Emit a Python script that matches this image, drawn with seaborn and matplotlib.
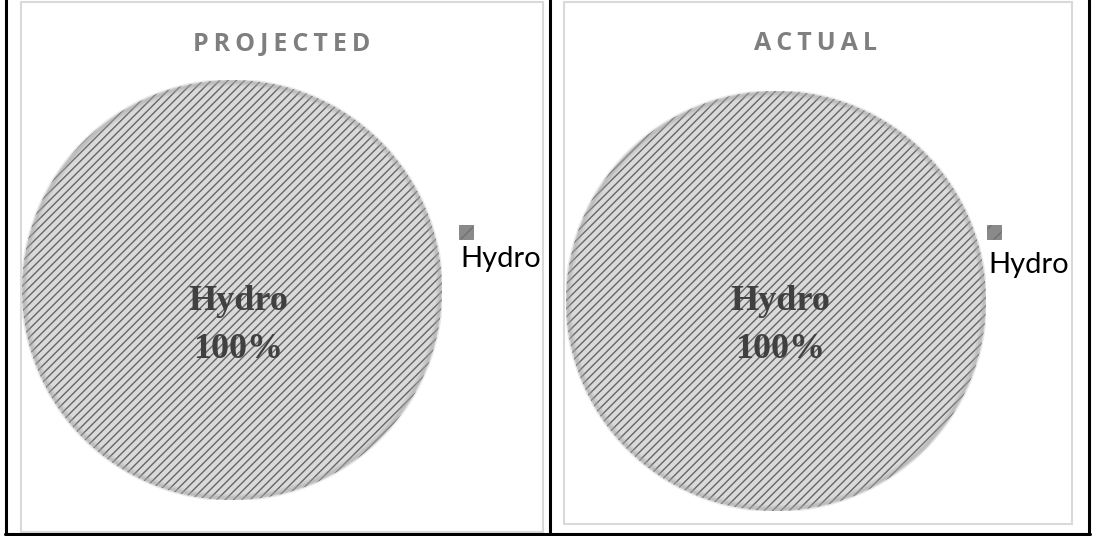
import numpy as np
import pandas as pd
import matplotlib
matplotlib.use("Agg")
import matplotlib.pyplot as plt
import seaborn as sns
from matplotlib.patches import Rectangle
from matplotlib.lines import Line2D

# data
categories = ["Hydro"]
projected = [100]
actual = [100]
titles = ["PROJECTED", "ACTUAL"]

sns.set_theme(style="white")
plt.rcParams["font.family"] = ["Open Sans", "DejaVu Sans"]
plt.rcParams["hatch.color"] = "#666666"
plt.rcParams["hatch.linewidth"] = 1.0

W, H = 1094, 536
fig = plt.figure(figsize=(W / 100, H / 100), dpi=100)
fig.patch.set_facecolor("white")


def fx(x):
    return x / W


def fy(y):
    return 1 - y / H


def spaced(s):
    return "\u2009".join(s)


# black table borders
for x in [6, 550, 1089]:
    fig.add_artist(Line2D([fx(x), fx(x)], [0, 1], color="black", lw=2.2))
fig.add_artist(Line2D([fx(5), fx(1090)], [fy(534), fy(534)], color="black", lw=2.2))

# light gray chart frames
fig.add_artist(Rectangle((fx(21), fy(532)), fx(543) - fx(21), fy(2) - fy(532),
                         transform=fig.transFigure, fill=False, edgecolor="#d9d9d9", lw=1.5))
fig.add_artist(Rectangle((fx(564), fy(524)), fx(1072) - fx(564), fy(2) - fy(524),
                         transform=fig.transFigure, fill=False, edgecolor="#d9d9d9", lw=1.5))

panels = [
    dict(vals=projected, title=titles[0], cx=232, cy=290, tx=282, pd=0.17,
         leg=(459, 225, 460, 267)),
    dict(vals=actual, title=titles[1], cx=776, cy=301, tx=815, pd=0.12,
         leg=(987, 225, 988, 273)),
]
r = 210

for p in panels:
    ax = fig.add_axes([fx(p["cx"] - r), fy(p["cy"] + r), 2 * r / W, 2 * r / H])
    wedges, texts, autotexts = ax.pie(
        p["vals"], labels=None, startangle=100, radius=1,
        colors=["#dadada"], pctdistance=p["pd"],
        autopct=lambda v: f"{categories[0]}\n{v:.0f}%",
        wedgeprops=dict(edgecolor="#666666", linewidth=0, hatch="////"),
        textprops=dict(family="Liberation Serif", fontweight="bold", fontsize=26,
                       color="#404040", linespacing=1.6),
    )
    # soft rim
    for w, a in [(5, 0.25), (2, 0.4)]:
        ax.add_patch(plt.Circle((0, 0), 0.99, fill=False, edgecolor="#a8a8a8", lw=w, alpha=a))
    ax.set_xlim(-1, 1)
    ax.set_ylim(-1, 1)
    ax.set_aspect("equal")
    ax.axis("off")

    fig.text(fx(p["tx"]), fy(44), spaced(p["title"]), ha="center", va="center",
             fontsize=18, fontweight="bold", color="#7f7f7f")

    sx, sy, lx, ly = p["leg"]
    fig.add_artist(Rectangle((fx(sx), fy(sy + 14)), 14 / W, 14 / H, transform=fig.transFigure,
                             facecolor="#8a8a8a", edgecolor="#707070", lw=0.5, hatch="//"))
    fig.text(fx(lx), fy(ly), categories[0], ha="left", va="baseline",
             fontsize=21, color="black", family=["Lato", "DejaVu Sans"])

fig.savefig("out.png", dpi=100)
